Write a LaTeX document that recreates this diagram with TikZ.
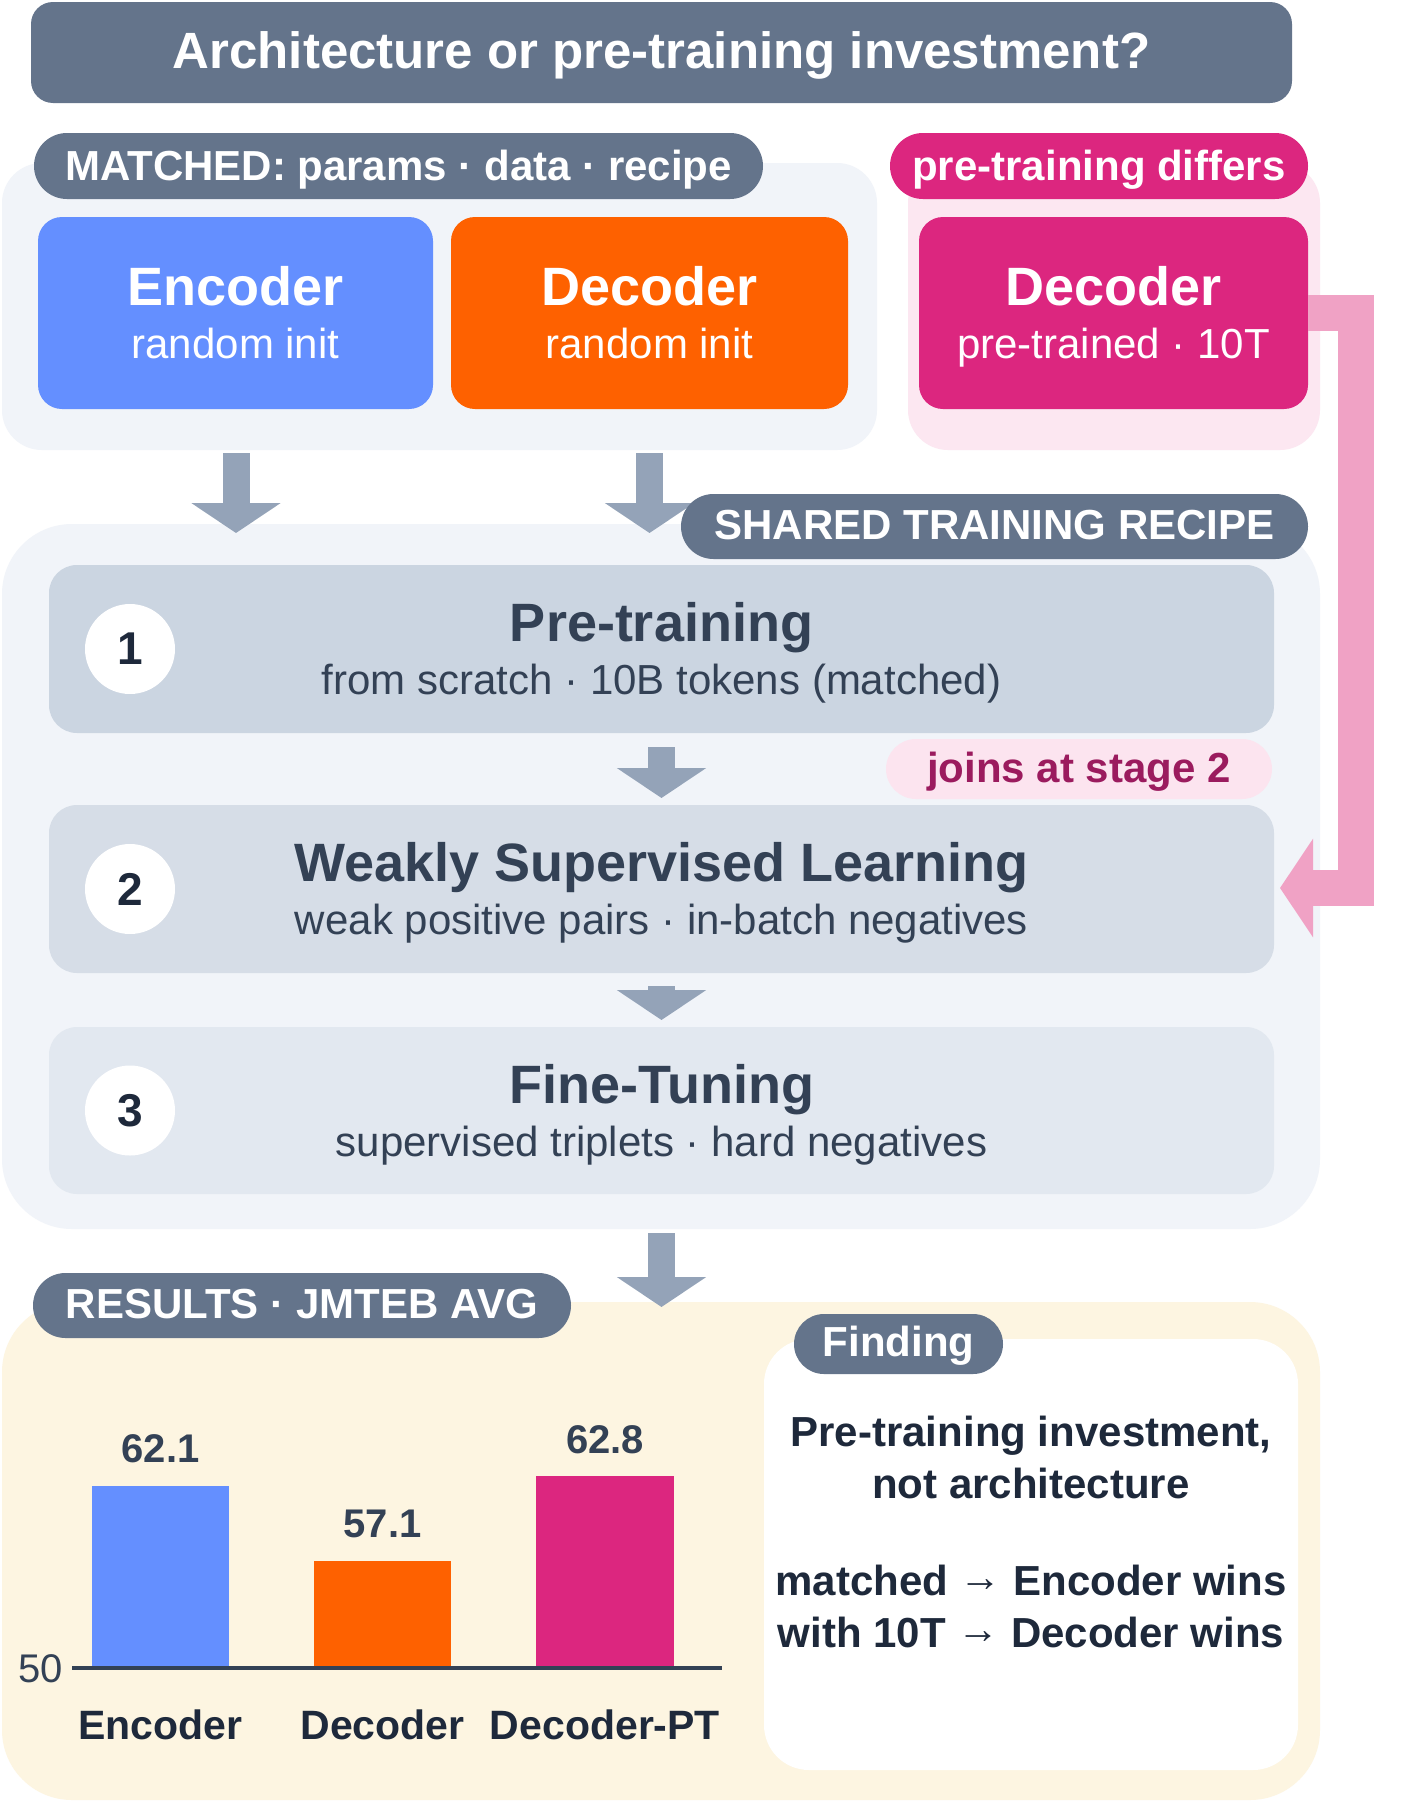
\documentclass[tikz,border=0pt]{standalone}
\usepackage{fontspec}
\setmainfont{Liberation Sans}
\usetikzlibrary{arrows.meta}
\definecolor{slate}{HTML}{64748B}
\definecolor{panelgray}{HTML}{F1F4F9}
\definecolor{panelpink}{HTML}{FCE7F1}
\definecolor{encblue}{HTML}{648FFF}
\definecolor{decorange}{HTML}{FE6100}
\definecolor{ptpink}{HTML}{DC267F}
\definecolor{stageA}{HTML}{CBD5E1}
\definecolor{stageB}{HTML}{D6DDE7}
\definecolor{stageC}{HTML}{E2E8F0}
\definecolor{arrowgray}{HTML}{94A3B8}
\definecolor{arrowpink}{HTML}{F0A2C5}
\definecolor{inkA}{HTML}{334155}
\definecolor{inkB}{HTML}{1E293B}
\definecolor{joinpink}{HTML}{FCE4EF}
\definecolor{joinink}{HTML}{9B1B5E}
\definecolor{panelyellow}{HTML}{FDF5E1}
\newcommand{\setfs}[1]{\fontsize{#1}{#1}\selectfont}
\newcommand{\rarr}{\raisebox{4pt}{→}}
\begin{document}
\begin{tikzpicture}[x=1pt,y=-1pt,
  shapebox/.style={draw=none,inner sep=0pt,outer sep=0pt,rectangle},
  txt/.style={inner sep=0pt,outer sep=0pt,anchor=base},
  grayarrow/.style={draw=arrowgray,line width=27pt,-{Triangle[width=88pt,length=30pt]}},
  pinkarrow/.style={draw=arrowpink,line width=36pt,line join=miter,-{Triangle[width=97pt,length=33pt]}},
  bigT/.style={txt,font=\bfseries\setfs{54}},
  subT/.style={txt,font=\setfs{42}},
  pillT/.style={txt,font=\bfseries\setfs{42},text=white},
  numT/.style={inner sep=0pt,font=\bfseries\setfs{46},text=inkB},
  valT/.style={txt,font=\bfseries\setfs{40},text=inkA},
  catT/.style={txt,font=\bfseries\setfs{41},text=inkB},
  findT/.style={txt,font=\bfseries\setfs{42},text=inkB}]
\useasboundingbox (0,0) rectangle (1408,1804);
\fill[white] (0,0) rectangle (1408,1804);

% title
\node[shapebox,fill=slate,minimum width=1261pt,minimum height=101pt,rounded corners=22pt] (title) at (661.5,52.5) {};
\node[txt,text=white,font=\bfseries\setfs{51}] (titletxt) at (661.5,68) {Architecture or pre-training investment?};

% top panels
\node[shapebox,fill=panelgray,minimum width=875pt,minimum height=287pt,rounded corners=40pt] (matched) at (439.5,306.5) {};
\node[shapebox,fill=panelpink,minimum width=412pt,minimum height=287pt,rounded corners=40pt] (pinkpanel) at (1114,306.5) {};
\node[shapebox,fill=slate,minimum width=729pt,minimum height=66pt,rounded corners=33pt] (matchedpill) at (398.5,166) {};
\node[pillT] (matchedtxt) at (398.5,180) {MATCHED: params · data · recipe};
\node[shapebox,fill=ptpink,minimum width=418pt,minimum height=66pt,rounded corners=33pt] (diffpill) at (1099,166) {};
\node[pillT] (difftxt) at (1099,180) {pre-training differs};

\node[shapebox,fill=encblue,minimum width=395pt,minimum height=192pt,rounded corners=24pt] (enc) at (235.5,313) {};
\node[bigT,text=white] (enct) at (235.5,305) {Encoder};
\node[subT,text=white] (encs) at (235.5,358) {random init};
\node[shapebox,fill=decorange,minimum width=397pt,minimum height=192pt,rounded corners=24pt] (dec) at (649.5,313) {};
\node[bigT,text=white] (dect) at (649.5,305) {Decoder};
\node[subT,text=white] (decs) at (649.5,358) {random init};
\node[shapebox,fill=ptpink,minimum width=389pt,minimum height=192pt,rounded corners=24pt] (pt) at (1113.5,313) {};
\node[bigT,text=white] (ptt) at (1113.5,305) {Decoder};
\node[subT,text=white] (pts) at (1113.5,358) {pre-trained · 10T};

% shared recipe panel
\node[shapebox,fill=panelgray,minimum width=1318pt,minimum height=705pt,rounded corners=70pt] (shared) at (661,876.5) {};

\node[shapebox,fill=stageA,minimum width=1225pt,minimum height=168pt,rounded corners=28pt] (s1) at (661.5,649) {};
\node[shapebox,fill=stageB,minimum width=1225pt,minimum height=168pt,rounded corners=28pt] (s2) at (661.5,889) {};
\node[shapebox,fill=stageC,minimum width=1225pt,minimum height=167pt,rounded corners=28pt] (s3) at (661.5,1110.5) {};

\node[circle,fill=white,minimum size=90pt,inner sep=0pt] (c1) at (130,649) {};
\node[numT] (n1) at (c1) {1};
\node[circle,fill=white,minimum size=90pt,inner sep=0pt] (c2) at (130,889) {};
\node[numT] (n2) at (c2) {2};
\node[circle,fill=white,minimum size=90pt,inner sep=0pt] (c3) at (130,1110.5) {};
\node[numT] (n3) at (c3) {3};

\node[bigT,text=inkA] (s1t) at (661.5,641) {Pre-training};
\node[subT,text=inkA] (s1s) at (661.5,694.5) {from scratch · 10B tokens (matched)};
\node[bigT,text=inkA] (s2t) at (661.5,881) {Weakly Supervised Learning};
\node[subT,text=inkA] (s2s) at (661.5,934.5) {weak positive pairs · in-batch negatives};
\node[bigT,text=inkA] (s3t) at (661.5,1103) {Fine-Tuning};
\node[subT,text=inkA] (s3s) at (661.5,1156.5) {supervised triplets · hard negatives};

\node[shapebox,fill=joinpink,minimum width=386pt,minimum height=60pt,rounded corners=30pt] (joins) at (1079,769) {};
\node[txt,font=\bfseries\setfs{42},text=joinink] (joinstxt) at (1079,782) {joins at stage 2};

% arrows
\coordinate (a1s) at (236,453);
\coordinate (a1e) at (236,533);
\coordinate (a2s) at (649.5,453);
\coordinate (a2e) at (649.5,533);
\draw[grayarrow] (a1s) -- (a1e);
\draw[grayarrow] (a2s) -- (a2e);
\draw[grayarrow] ([yshift=-14pt]s1.south) -- ([yshift=7pt]s2.north);
\draw[grayarrow] ([yshift=-13pt]s2.south) -- ([yshift=7pt]s3.north);

\node[shapebox,fill=slate,minimum width=627pt,minimum height=65pt,rounded corners=32.5pt] (sharedpill) at (994.5,526.5) {};
\node[pillT] (sharedtxt) at (994.5,539) {SHARED TRAINING RECIPE};

% pink connector
\coordinate (pk1) at (1356,313);
\coordinate (pk2) at (1356,888);
\coordinate (pk3) at (1280,888);
\draw[pinkarrow] (pt.east) -- (pk1) -- (pk2) -- (pk3);

% results panel
\node[shapebox,fill=panelyellow,minimum width=1318pt,minimum height=498pt,rounded corners=70pt] (results) at (661,1551) {};
\draw[grayarrow] ([yshift=-4pt]shared.south -| s1.south) -- ([yshift=-5pt]results.north -| s1.south);
\node[shapebox,fill=slate,minimum width=538pt,minimum height=65pt,rounded corners=32.5pt] (respill) at (302,1305.5) {};
\node[pillT] (restxt) at (302,1318) {RESULTS · JMTEB AVG};

\node[shapebox,fill=white,minimum width=534pt,minimum height=431pt,rounded corners=45pt] (finding) at (1031,1554.5) {};
\node[shapebox,fill=slate,minimum width=209pt,minimum height=60pt,rounded corners=30pt] (findpill) at (898.5,1344) {};
\node[pillT] (findpilltxt) at (898.5,1356) {Finding};
\node[findT] (f1) at (1031,1446) {Pre-training investment,};
\node[findT] (f2) at (1031,1498) {not architecture};
\node[findT] (f3) at (1031,1595) {matched \rarr{} Encoder wins};
\node[findT] (f4) at (1031,1647) {with 10T \rarr{} Decoder wins};

% bars
\node[shapebox,fill=encblue,minimum width=137pt,minimum height=182pt,anchor=south] (b1) at (160.5,1668) {};
\node[shapebox,fill=decorange,minimum width=137pt,minimum height=107pt,anchor=south] (b2) at (382.5,1668) {};
\node[shapebox,fill=ptpink,minimum width=138pt,minimum height=192pt,anchor=south] (b3) at (605,1668) {};
\coordinate (axl) at (72,1668);
\coordinate (axr) at (722,1668);
\draw[draw=inkA,line width=3.5pt] (axl) -- (axr);
\node[txt,anchor=base east,font=\setfs{40},text=inkA] (fifty) at (63,1682) {50};
\node[valT] (v1) at (160.5,1462) {62.1};
\node[valT] (v2) at (382.5,1537) {57.1};
\node[valT] (v3) at (605,1453) {62.8};
\node[catT] (l1) at (160.5,1739) {Encoder};
\node[catT] (l2) at (382.5,1739) {Decoder};
\node[catT] (l3) at (605,1739) {Decoder-PT};
\end{tikzpicture}
\end{document}
